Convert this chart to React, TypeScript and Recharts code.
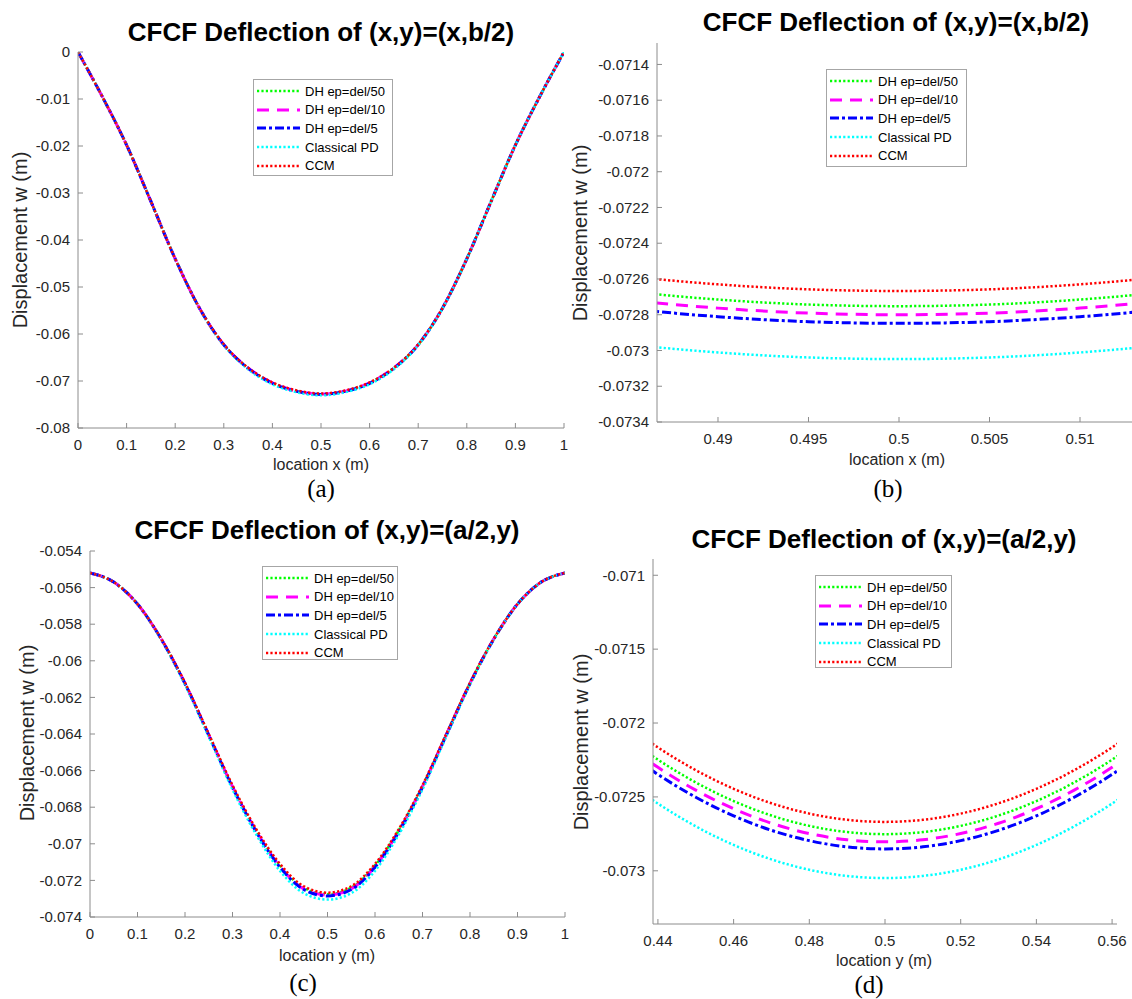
import { LineChart, Line, XAxis, YAxis } from 'recharts';

const SERIES_NAMES = ['DH ep=del/50', 'DH ep=del/10', 'DH ep=del/5', 'Classical PD', 'CCM'];

// (a) deflection along x at y=b/2
const X_A = [0, 0.05, 0.1, 0.15, 0.2, 0.25, 0.3, 0.35, 0.4, 0.45, 0.5, 0.55, 0.6, 0.65, 0.7, 0.75, 0.8, 0.85, 0.9, 0.95, 1];
const A_GREEN = [0, -0.0095, -0.0198, -0.0318, -0.044, -0.0545, -0.0623, -0.0672, -0.0704, -0.0721, -0.07275, -0.0721, -0.0704, -0.0672, -0.0623, -0.0545, -0.044, -0.0318, -0.0198, -0.0095, 0];
const A_MAGENTA = [0, -0.0095, -0.0198, -0.0318, -0.044, -0.0545, -0.0623, -0.0672, -0.0704, -0.07215, -0.0728, -0.07215, -0.0704, -0.0672, -0.0623, -0.0545, -0.044, -0.0318, -0.0198, -0.0095, 0];
const A_BLUE = [0, -0.0095, -0.0198, -0.0318, -0.044, -0.0545, -0.0623, -0.0673, -0.0705, -0.0722, -0.07285, -0.0722, -0.0705, -0.0673, -0.0623, -0.0545, -0.044, -0.0318, -0.0198, -0.0095, 0];
const A_CYAN = [0, -0.0095, -0.0198, -0.0318, -0.044, -0.0546, -0.0624, -0.0675, -0.0707, -0.0724, -0.07305, -0.0724, -0.0707, -0.0675, -0.0624, -0.0546, -0.044, -0.0318, -0.0198, -0.0095, 0];
const A_RED = [0, -0.0095, -0.0198, -0.0318, -0.044, -0.0545, -0.0622, -0.0672, -0.0703, -0.072, -0.07267, -0.072, -0.0703, -0.0672, -0.0622, -0.0545, -0.044, -0.0318, -0.0198, -0.0095, 0];

// (b) zoom of (a) around the centre
const X_B = [0.48, 0.485, 0.49, 0.495, 0.5, 0.505, 0.51, 0.515, 0.52];
const B_GREEN = [-0.072604, -0.072669, -0.072715, -0.072743, -0.072752, -0.072743, -0.072715, -0.072669, -0.072604];
const B_MAGENTA = [-0.072652, -0.072717, -0.072763, -0.072791, -0.0728, -0.072791, -0.072763, -0.072717, -0.072652];
const B_BLUE = [-0.0727, -0.072765, -0.072811, -0.072839, -0.072848, -0.072839, -0.072811, -0.072765, -0.0727];
const B_CYAN = [-0.0729, -0.072965, -0.073011, -0.073039, -0.073048, -0.073039, -0.073011, -0.072965, -0.0729];
const B_RED = [-0.072519, -0.072584, -0.07263, -0.072658, -0.072667, -0.072658, -0.07263, -0.072584, -0.072519];

// (c) deflection along y at x=a/2
const X_C = X_A;
const C_GREEN = [-0.0552, -0.0557, -0.0569, -0.05881, -0.06122, -0.06403, -0.06685, -0.06926, -0.07118, -0.0724, -0.07275, -0.0724, -0.07118, -0.06926, -0.06685, -0.06403, -0.06122, -0.05881, -0.0569, -0.0557, -0.0552];
const C_MAGENTA = [-0.0552, -0.0557, -0.0569, -0.05881, -0.06123, -0.06405, -0.06688, -0.06931, -0.07124, -0.07246, -0.0728, -0.07246, -0.07124, -0.06931, -0.06688, -0.06405, -0.06123, -0.05881, -0.0569, -0.0557, -0.0552];
const C_BLUE = [-0.0552, -0.0557, -0.0569, -0.05882, -0.06125, -0.06407, -0.06691, -0.06935, -0.07128, -0.0725, -0.07285, -0.0725, -0.07128, -0.06935, -0.06691, -0.06407, -0.06125, -0.05882, -0.0569, -0.0557, -0.0552];
const C_CYAN = [-0.0552, -0.0557, -0.0569, -0.05884, -0.0613, -0.06415, -0.06703, -0.0695, -0.07148, -0.0727, -0.07305, -0.0727, -0.07148, -0.0695, -0.06703, -0.06415, -0.0613, -0.05884, -0.0569, -0.0557, -0.0552];
const C_RED = [-0.0552, -0.0557, -0.0569, -0.0588, -0.0612, -0.064, -0.0668, -0.0692, -0.0711, -0.07232, -0.07267, -0.07232, -0.0711, -0.0692, -0.0668, -0.064, -0.0612, -0.0588, -0.0569, -0.0557, -0.0552];

// (d) zoom of (c) around the centre
const X_D = [0.43, 0.44, 0.45, 0.46, 0.47, 0.48, 0.49, 0.5, 0.51, 0.52, 0.53, 0.54, 0.55, 0.56, 0.57];
const D_GREEN = [-0.072066, -0.072248, -0.072402, -0.072528, -0.072626, -0.072696, -0.072738, -0.072752, -0.072738, -0.072696, -0.072626, -0.072528, -0.072402, -0.072248, -0.072066];
const D_MAGENTA = [-0.072118, -0.0723, -0.072454, -0.07258, -0.072678, -0.072748, -0.07279, -0.072804, -0.07279, -0.072748, -0.072678, -0.07258, -0.072454, -0.0723, -0.072118];
const D_BLUE = [-0.072166, -0.072348, -0.072502, -0.072628, -0.072726, -0.072796, -0.072838, -0.072852, -0.072838, -0.072796, -0.072726, -0.072628, -0.072502, -0.072348, -0.072166];
const D_CYAN = [-0.072363, -0.072545, -0.072699, -0.072825, -0.072923, -0.072993, -0.073035, -0.073049, -0.073035, -0.072993, -0.072923, -0.072825, -0.072699, -0.072545, -0.072363];
const D_RED = [-0.071983, -0.072165, -0.072319, -0.072445, -0.072543, -0.072613, -0.072655, -0.072669, -0.072655, -0.072613, -0.072543, -0.072445, -0.072319, -0.072165, -0.071983];

// tick values
const TICKS_X_FULL = [0, 0.1, 0.2, 0.3, 0.4, 0.5, 0.6, 0.7, 0.8, 0.9, 1];
const TICKS_Y_A = [0, -0.01, -0.02, -0.03, -0.04, -0.05, -0.06, -0.07, -0.08];
const TICKS_X_B = [0.49, 0.495, 0.5, 0.505, 0.51];
const TICKS_Y_B = [-0.0714, -0.0716, -0.0718, -0.072, -0.0722, -0.0724, -0.0726, -0.0728, -0.073, -0.0732, -0.0734];
const TICKS_Y_C = [-0.054, -0.056, -0.058, -0.06, -0.062, -0.064, -0.066, -0.068, -0.07, -0.072, -0.074];
const TICKS_X_D = [0.44, 0.46, 0.48, 0.5, 0.52, 0.54, 0.56];
const TICKS_Y_D = [-0.071, -0.0715, -0.072, -0.0725, -0.073];

const KEYS = ['g', 'm', 'b', 'c', 'r'];
const STYLES = [
  { color: '#00ff00', width: 2.5, dash: '2.2 2.2' },
  { color: '#ff00ff', width: 3, dash: '12 8' },
  { color: '#0000ff', width: 3, dash: '9 3 3 3' },
  { color: '#00ffff', width: 2.5, dash: '2.2 2.2' },
  { color: '#ff0000', width: 2.5, dash: '2.2 2.2' },
];

const AXIS = '#8c8c8c';
const TICK_TXT = '#262626';
const FONT = '"Liberation Sans", Arial, sans-serif';

const fmt = (v: number) => String(Number(v.toFixed(6)));

function rows(xs: number[], series: number[][]) {
  return xs.map((x, i) => {
    const row: Record<string, number> = { x };
    KEYS.forEach((k, j) => { row[k] = series[j][i]; });
    return row;
  });
}

function BottomTick(props: any) {
  const { x, y, payload } = props;
  return (
    <g>
      <line x1={x} y1={y} x2={x} y2={y - 5} stroke={AXIS} />
      <text x={x} y={y + 17} dy="0.35em" textAnchor="middle" fontSize={15} fill={TICK_TXT} fontFamily={FONT}>{fmt(payload.value)}</text>
    </g>
  );
}

function LeftTick(props: any) {
  const { x, y, payload } = props;
  return (
    <g>
      <line x1={x} y1={y} x2={x + 5} y2={y} stroke={AXIS} />
      <text x={x - 8} y={y} dy="0.35em" textAnchor="end" fontSize={15} fill={TICK_TXT} fontFamily={FONT}>{fmt(payload.value)}</text>
    </g>
  );
}

function TopTick(props: any) {
  const { x, y } = props;
  return <line x1={x} y1={y} x2={x} y2={y + 5} stroke={AXIS} />;
}

function RightTick(props: any) {
  const { x, y } = props;
  return <line x1={x} y1={y} x2={x - 5} y2={y} stroke={AXIS} />;
}

function Txt({ x, y, size, children, bold, rotate, serif }: any) {
  return (
    <div
      style={{
        position: 'absolute',
        left: x,
        top: y,
        transform: `translate(-50%, -50%)${rotate ? ' rotate(-90deg)' : ''}`,
        whiteSpace: 'nowrap',
        lineHeight: 1,
        fontSize: size,
        fontWeight: bold ? 700 : 400,
        fontFamily: serif ? '"Liberation Serif", "Times New Roman", serif' : FONT,
        color: serif || bold ? '#000' : TICK_TXT,
      }}
    >
      {children}
    </div>
  );
}

function LegendBox({ left, top, width, height }: any) {
  return (
    <div
      style={{
        position: 'absolute', left, top, width, height, boxSizing: 'border-box',
        border: '1px solid #a6a6a6', background: '#fff', paddingTop: 2,
        fontFamily: FONT, fontSize: 13, color: '#000',
      }}
    >
      {SERIES_NAMES.map((name, i) => (
        <div key={name} style={{ display: 'flex', alignItems: 'center', height: 18.6 }}>
          <svg width={48} height={8} style={{ flex: 'none' }}>
            <line x1={3} y1={4} x2={46} y2={4} stroke={STYLES[i].color} strokeWidth={STYLES[i].width} strokeDasharray={STYLES[i].dash} />
          </svg>
          <span style={{ marginLeft: 3 }}>{name}</span>
        </div>
      ))}
    </div>
  );
}

type PanelProps = {
  box: { left: number; top: number; right: number; bottom: number };
  data: Record<string, number>[];
  xDomain: [number, number];
  yDomain: [number, number];
  xTicks: number[];
  yTicks: number[];
  title: string;
  titlePos: [number, number];
  xLabel: string;
  xLabelPos: [number, number];
  yLabelPos: [number, number];
  caption: string;
  captionPos: [number, number];
  legend: { left: number; top: number; width: number; height: number };
};

function Panel(p: PanelProps) {
  const { box } = p;
  const w = box.right - box.left + 70;
  const h = box.bottom - box.top + 50;
  return (
    <>
      <div style={{ position: 'absolute', left: box.left - 60, top: box.top - 10 }}>
        <LineChart width={w} height={h} data={p.data} margin={{ top: 10, right: 10, bottom: 10, left: 0 }}>
          <XAxis dataKey="x" type="number" domain={p.xDomain} ticks={p.xTicks} allowDataOverflow interval={0}
            height={30} tickSize={0} tickMargin={0} tickLine={false} axisLine={{ stroke: AXIS }} tick={(t: any) => <BottomTick {...t} />} />
          <XAxis xAxisId="top" orientation="top" dataKey="x" type="number" domain={p.xDomain} ticks={p.xTicks} allowDataOverflow interval={0}
            height={0} tickSize={0} tickMargin={0} tickLine={false} axisLine={{ stroke: AXIS }} tick={(t: any) => <TopTick {...t} />} />
          <YAxis type="number" domain={p.yDomain} ticks={p.yTicks} allowDataOverflow interval={0}
            width={60} tickSize={0} tickMargin={0} tickLine={false} axisLine={{ stroke: AXIS }} tick={(t: any) => <LeftTick {...t} />} />
          <YAxis yAxisId="right" orientation="right" type="number" domain={p.yDomain} ticks={p.yTicks} allowDataOverflow interval={0}
            width={0} tickSize={0} tickMargin={0} tickLine={false} axisLine={{ stroke: AXIS }} tick={(t: any) => <RightTick {...t} />} />
          {KEYS.map((k, i) => (
            <Line key={k} dataKey={k} name={SERIES_NAMES[i]} type="monotone" stroke={STYLES[i].color}
              strokeWidth={STYLES[i].width} strokeDasharray={STYLES[i].dash} dot={false} activeDot={false}
              isAnimationActive={false} />
          ))}
        </LineChart>
      </div>
      <LegendBox {...p.legend} />
      <Txt x={p.titlePos[0]} y={p.titlePos[1]} size={26} bold>{p.title}</Txt>
      <Txt x={p.yLabelPos[0]} y={p.yLabelPos[1]} size={20} rotate>Displacement w (m)</Txt>
      <Txt x={p.xLabelPos[0]} y={p.xLabelPos[1]} size={16}>{p.xLabel}</Txt>
      <Txt x={p.captionPos[0]} y={p.captionPos[1]} size={25} serif>{p.caption}</Txt>
    </>
  );
}

export default function App() {
  return (
    <div style={{ position: 'absolute', left: 0, top: 0, width: 1132, height: 999, overflow: 'hidden', background: '#fff' }}>
      <Panel
        box={{ left: 78, top: 52, right: 564, bottom: 428 }}
        data={rows(X_A, [A_GREEN, A_MAGENTA, A_BLUE, A_CYAN, A_RED])}
        xDomain={[0, 1]} yDomain={[-0.08, 0]} xTicks={TICKS_X_FULL} yTicks={TICKS_Y_A}
        title="CFCF Deflection of (x,y)=(x,b/2)" titlePos={[321, 32]}
        xLabel="location x (m)" xLabelPos={[321, 465]} yLabelPos={[20, 240]}
        caption="(a)" captionPos={[321, 488]}
        legend={{ left: 253, top: 79, width: 140, height: 97 }}
      />
      <Panel
        box={{ left: 657, top: 43, right: 1141, bottom: 422 }}
        data={rows(X_B, [B_GREEN, B_MAGENTA, B_BLUE, B_CYAN, B_RED])}
        xDomain={[0.48663, 0.51337]} yDomain={[-0.0734, -0.07128]} xTicks={TICKS_X_B} yTicks={TICKS_Y_B}
        title="CFCF Deflection of (x,y)=(x,b/2)" titlePos={[896, 22]}
        xLabel="location x (m)" xLabelPos={[897, 460]} yLabelPos={[580, 233]}
        caption="(b)" captionPos={[888, 488]}
        legend={{ left: 826, top: 69, width: 141, height: 98 }}
      />
      <Panel
        box={{ left: 90, top: 551, right: 565, bottom: 917 }}
        data={rows(X_C, [C_GREEN, C_MAGENTA, C_BLUE, C_CYAN, C_RED])}
        xDomain={[0, 1]} yDomain={[-0.074, -0.054]} xTicks={TICKS_X_FULL} yTicks={TICKS_Y_C}
        title="CFCF Deflection of (x,y)=(a/2,y)" titlePos={[327, 530]}
        xLabel="location y (m)" xLabelPos={[327, 956]} yLabelPos={[27, 733]}
        caption="(c)" captionPos={[303, 982]}
        legend={{ left: 262, top: 566, width: 136, height: 94 }}
      />
      <Panel
        box={{ left: 653, top: 559, right: 1117, bottom: 924 }}
        data={rows(X_D, [D_GREEN, D_MAGENTA, D_BLUE, D_CYAN, D_RED])}
        xDomain={[0.4387, 0.5613]} yDomain={[-0.07336, -0.07089]} xTicks={TICKS_X_D} yTicks={TICKS_Y_D}
        title="CFCF Deflection of (x,y)=(a/2,y)" titlePos={[884, 539]}
        xLabel="location y (m)" xLabelPos={[884, 961]} yLabelPos={[581, 742]}
        caption="(d)" captionPos={[869, 984]}
        legend={{ left: 815, top: 575, width: 137, height: 93 }}
      />
    </div>
  );
}
